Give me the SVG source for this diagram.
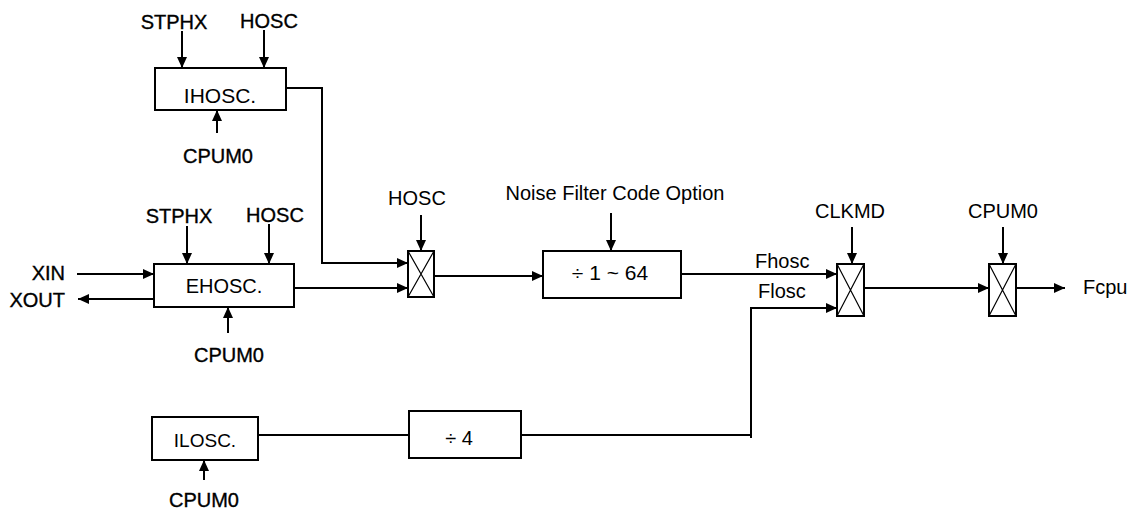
<svg xmlns="http://www.w3.org/2000/svg" width="1133" height="511" viewBox="0 0 1133 511">
<style>
.box{fill:#fff;stroke:#000;stroke-width:2}
.w{fill:none;stroke:#000;stroke-width:2}
.x{fill:none;stroke:#000;stroke-width:1.2}
text{font-family:"Liberation Sans",Arial,sans-serif;font-size:20px;fill:#000}
.b{stroke:#000;stroke-width:0.35}
.c{text-anchor:middle}
.r{text-anchor:end}
</style>
<defs>
<marker id="ah" markerUnits="userSpaceOnUse" markerWidth="11" markerHeight="10" refX="11" refY="5" orient="auto">
<path d="M0,0 L11,5 L0,10 z" fill="#000"/>
</marker>
</defs>
<g id="connectors">
<line class="w" x1="182" y1="31" x2="182" y2="68" marker-end="url(#ah)"/>
<line class="w" x1="264" y1="30" x2="264" y2="68" marker-end="url(#ah)"/>
<line class="w" x1="217" y1="133" x2="217" y2="110" marker-end="url(#ah)"/>
<polyline class="w" points="286,88 322,88 322,263 408,263" marker-end="url(#ah)"/>
<line class="w" x1="187" y1="226" x2="187" y2="264" marker-end="url(#ah)"/>
<line class="w" x1="269" y1="224" x2="269" y2="264" marker-end="url(#ah)"/>
<line class="w" x1="77" y1="274" x2="154" y2="274" marker-end="url(#ah)"/>
<line class="w" x1="154" y1="299" x2="78" y2="299" marker-end="url(#ah)"/>
<line class="w" x1="228" y1="333" x2="228" y2="307" marker-end="url(#ah)"/>
<line class="w" x1="294" y1="288" x2="408" y2="288" marker-end="url(#ah)"/>
<line class="w" x1="421" y1="215" x2="421" y2="251" marker-end="url(#ah)"/>
<line class="w" x1="434" y1="276" x2="543" y2="276" marker-end="url(#ah)"/>
<line class="w" x1="611" y1="213" x2="611" y2="251" marker-end="url(#ah)"/>
<line class="w" x1="681" y1="274" x2="837" y2="274" marker-end="url(#ah)"/>
<line class="w" x1="258" y1="435" x2="409" y2="435"/>
<line class="w" x1="521" y1="435" x2="751" y2="435"/>
<polyline class="w" points="751,438 751,308 837,308" marker-end="url(#ah)"/>
<line class="w" x1="852" y1="227" x2="852" y2="264" marker-end="url(#ah)"/>
<line class="w" x1="864" y1="288" x2="989" y2="288" marker-end="url(#ah)"/>
<line class="w" x1="1003" y1="227" x2="1003" y2="264" marker-end="url(#ah)"/>
<line class="w" x1="1016" y1="288" x2="1065" y2="288" marker-end="url(#ah)"/>
<line class="w" x1="204" y1="480" x2="204" y2="460" marker-end="url(#ah)"/>
</g>
<g id="labels">
<text class="c b" x="174" y="29">STPHX</text>
<text class="c b" x="269" y="28">HOSC</text>
<text class="c b" x="218" y="163">CPUM0</text>
<text class="c b" x="179" y="223">STPHX</text>
<text class="c b" x="275" y="222">HOSC</text>
<text class="r b" x="65" y="280">XIN</text>
<text class="r b" x="65" y="307">XOUT</text>
<text class="c b" x="229" y="362">CPUM0</text>
<text class="c" x="417" y="205">HOSC</text>
<text class="c" x="615" y="200">Noise Filter Code Option</text>
<text x="755" y="268">Fhosc</text>
<text x="758" y="298">Flosc</text>
<text class="c" x="850" y="218">CLKMD</text>
<text class="c" x="1003" y="218">CPUM0</text>
<text x="1083" y="294">Fcpu</text>
<text class="c b" x="204" y="507">CPUM0</text>
</g>
<g id="ihosc">
<rect class="box" x="155" y="68" width="131" height="42"/>
<text class="c" x="220" y="103" style="font-size:21px">IHOSC.</text>
</g>
<g id="ehosc">
<rect class="box" x="154" y="264" width="140" height="43"/>
<text class="c" x="224" y="293">EHOSC.</text>
</g>
<g id="mux1">
<rect class="box" x="408" y="251" width="26" height="46"/>
<path class="x" d="M408,251 L434,297 M434,251 L408,297"/>
</g>
<g id="div64">
<rect class="box" x="543" y="251" width="138" height="47"/>
<text class="c" x="610" y="280" style="font-size:21px">÷ 1 ~ 64</text>
</g>
<g id="mux2">
<rect class="box" x="837" y="264" width="27" height="52"/>
<path class="x" d="M837,264 L864,316 M864,264 L837,316"/>
</g>
<g id="mux3">
<rect class="box" x="989" y="264" width="27" height="52"/>
<path class="x" d="M989,264 L1016,316 M1016,264 L989,316"/>
</g>
<g id="ilosc">
<rect class="box" x="152" y="417" width="106" height="43"/>
<text class="c" x="205" y="447" style="font-size:19px">ILOSC.</text>
</g>
<g id="div4">
<rect class="box" x="409" y="411" width="112" height="47"/>
<text class="c" x="459" y="445">÷ 4</text>
</g>
</svg>
